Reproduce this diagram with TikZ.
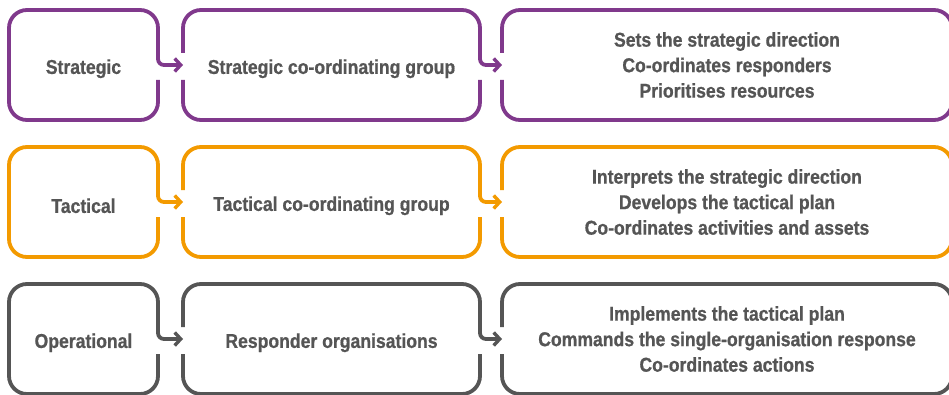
\documentclass[tikz,border=0pt]{standalone}
\usepackage{fontspec}
\setmainfont{Liberation Sans}[FakeStretch=0.88, BoldFeatures={FakeBold=0.8}]
\usetikzlibrary{arrows.meta}

\definecolor{stratcol}{HTML}{80398C}
\definecolor{tactcol}{HTML}{F39A00}
\definecolor{opercol}{HTML}{555555}
\definecolor{textcol}{HTML}{555555}

\tikzset{
    box/.style={draw=none, outer sep=0pt, minimum height=110pt, align=center,
                text=textcol, font=\fontsize{20}{25.5}\selectfont\bfseries,
                execute at begin node={\rule{0pt}{22pt}}},
    outline/.style={line width=3.8pt, rounded corners=18pt},
    arr/.style={line width=3.8pt, rounded corners=6pt,
                -{Straight Barb[length=6pt, width=13pt, line width=3.4pt]}}
}

\begin{document}
\begin{tikzpicture}[x=1pt, y=1pt]
    \useasboundingbox (0,0) rectangle (949,394);

    % Strategic level
    \node[box, minimum width=149pt] (strat) at (83.5,329) {Strategic};
    \node[box, minimum width=297pt] (scg) at (331.5,329) {Strategic co-ordinating group};
    \node[box, minimum width=450pt] (sdir) at (727,329)
        {Sets the strategic direction\\Co-ordinates responders\\Prioritises resources};
    \draw[outline, stratcol] ([yshift=-15pt]strat.east) -- (strat.south east) -- (strat.south west)
          -- (strat.north west) -- (strat.north east) -- ([yshift=8pt]strat.east);
    \draw[outline, stratcol] ([yshift=-15pt]scg.east) -- (scg.south east) -- (scg.south west) -- ([yshift=-15pt]scg.west);
    \draw[outline, stratcol] ([yshift=12pt]scg.west) -- (scg.north west) -- (scg.north east) -- ([yshift=8pt]scg.east);
    \draw[outline, stratcol] ([yshift=-15pt]sdir.west) -- (sdir.south west) -- (sdir.south east)
          -- (sdir.north east) -- (sdir.north west) -- ([yshift=12pt]sdir.west);
    \draw[arr, stratcol] ([yshift=8pt]strat.east) |- (scg.west);
    \draw[arr, stratcol] ([yshift=8pt]scg.east) |- (sdir.west);

    % Tactical level
    \node[box, minimum width=149pt] (tact) at (83.5,192) {Tactical};
    \node[box, minimum width=297pt] (tcg) at (331.5,192) {Tactical co-ordinating group};
    \node[box, minimum width=450pt] (tdir) at (727,192)
        {Interprets the strategic direction\\Develops the tactical plan\\Co-ordinates activities and assets};
    \draw[outline, tactcol] ([yshift=-15pt]tact.east) -- (tact.south east) -- (tact.south west)
          -- (tact.north west) -- (tact.north east) -- ([yshift=8pt]tact.east);
    \draw[outline, tactcol] ([yshift=-15pt]tcg.east) -- (tcg.south east) -- (tcg.south west) -- ([yshift=-15pt]tcg.west);
    \draw[outline, tactcol] ([yshift=12pt]tcg.west) -- (tcg.north west) -- (tcg.north east) -- ([yshift=8pt]tcg.east);
    \draw[outline, tactcol] ([yshift=-15pt]tdir.west) -- (tdir.south west) -- (tdir.south east)
          -- (tdir.north east) -- (tdir.north west) -- ([yshift=12pt]tdir.west);
    \draw[arr, tactcol] ([yshift=8pt]tact.east) |- (tcg.west);
    \draw[arr, tactcol] ([yshift=8pt]tcg.east) |- (tdir.west);

    % Operational level
    \node[box, minimum width=149pt] (oper) at (83.5,55) {Operational};
    \node[box, minimum width=297pt] (resp) at (331.5,55) {Responder organisations};
    \node[box, minimum width=450pt] (odir) at (727,55)
        {Implements the tactical plan\\Commands the single-organisation response\\Co-ordinates actions};
    \draw[outline, opercol] ([yshift=-15pt]oper.east) -- (oper.south east) -- (oper.south west)
          -- (oper.north west) -- (oper.north east) -- ([yshift=8pt]oper.east);
    \draw[outline, opercol] ([yshift=-15pt]resp.east) -- (resp.south east) -- (resp.south west) -- ([yshift=-15pt]resp.west);
    \draw[outline, opercol] ([yshift=12pt]resp.west) -- (resp.north west) -- (resp.north east) -- ([yshift=8pt]resp.east);
    \draw[outline, opercol] ([yshift=-15pt]odir.west) -- (odir.south west) -- (odir.south east)
          -- (odir.north east) -- (odir.north west) -- ([yshift=12pt]odir.west);
    \draw[arr, opercol] ([yshift=8pt]oper.east) |- (resp.west);
    \draw[arr, opercol] ([yshift=8pt]resp.east) |- (odir.west);

\end{tikzpicture}
\end{document}
